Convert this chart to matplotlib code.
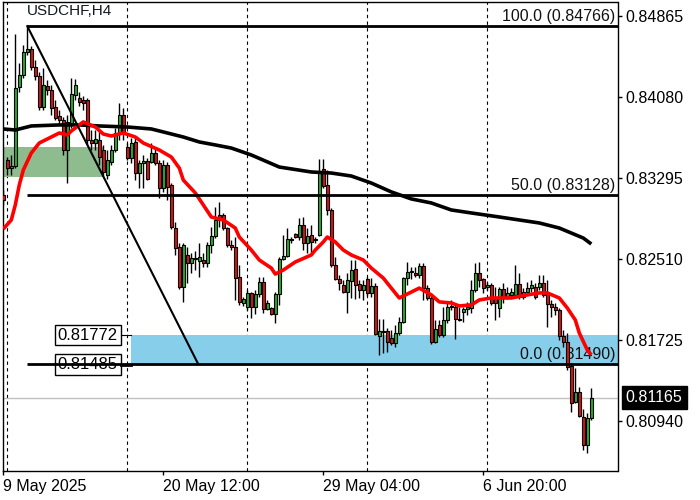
import matplotlib
matplotlib.use('Agg')
import matplotlib.pyplot as plt
import numpy as np
from matplotlib.patches import Rectangle

plt.rcParams['font.family'] = ['Liberation Sans', 'DejaVu Sans']

symbol_title = "USDCHF,H4"

opens = [
    0.83131, 0.83469, 0.83391, 0.83411, 0.84176, 0.84293, 0.84516, 0.84545, 0.84370, 0.84283,
    0.83983, 0.84186, 0.84148, 0.83983, 0.83896, 0.83857, 0.83566, 0.83818, 0.84100, 0.84070,
    0.84051, 0.84051, 0.83663, 0.83634, 0.83663, 0.83566, 0.83324, 0.83450, 0.83566, 0.83731,
    0.83906, 0.83595, 0.83488, 0.83644, 0.83343, 0.83440, 0.83459, 0.83450, 0.83537, 0.83440,
    0.83197, 0.83421, 0.83227, 0.82810, 0.82626, 0.82238, 0.82549, 0.82471, 0.82519, 0.82490,
    0.82500, 0.82471, 0.82646, 0.82733, 0.82937, 0.82937, 0.82810, 0.82646, 0.82626, 0.82335,
    0.82084, 0.82045, 0.82181, 0.82045, 0.82171, 0.82287, 0.82026, 0.82035, 0.81977, 0.82171,
    0.82510, 0.82539, 0.82694, 0.82752, 0.82723, 0.82840, 0.82665, 0.82743, 0.82694, 0.82743,
    0.83382, 0.83227, 0.82985, 0.82452, 0.82316, 0.82258, 0.82191, 0.82296, 0.82413, 0.82267,
    0.82210, 0.82316, 0.82181, 0.82248, 0.81764, 0.81812, 0.81812, 0.81744, 0.81696, 0.81793,
    0.81900, 0.82325, 0.82384, 0.82374, 0.82355, 0.82442, 0.82228, 0.82132, 0.81706, 0.81871,
    0.81774, 0.81919, 0.82045, 0.82045, 0.81929, 0.81997, 0.82026, 0.82035, 0.82210, 0.82374,
    0.82316, 0.82238, 0.82258, 0.82132, 0.82035, 0.82220, 0.82142, 0.82162, 0.82162, 0.82267,
    0.82142, 0.82191, 0.82228, 0.82238, 0.82238, 0.82277, 0.82181, 0.82074, 0.82045, 0.82016,
    0.81764, 0.81706, 0.81473, 0.81125, 0.81222, 0.80979, 0.80708, 0.80969,
]
highs = [
    0.83179, 0.83498, 0.83518, 0.84690, 0.84409, 0.84584, 0.84766, 0.84574, 0.84438, 0.84322,
    0.84360, 0.84244, 0.84196, 0.84051, 0.83954, 0.83886, 0.83906, 0.84263, 0.84254, 0.84129,
    0.84090, 0.84070, 0.83760, 0.83760, 0.83760, 0.83615, 0.83566, 0.83615, 0.83779, 0.84022,
    0.83973, 0.83634, 0.83682, 0.83682, 0.83469, 0.83518, 0.83488, 0.83634, 0.83585, 0.83469,
    0.83469, 0.83450, 0.83246, 0.82869, 0.82665, 0.82665, 0.82626, 0.82568, 0.82587, 0.82665,
    0.82568, 0.82675, 0.82820, 0.83014, 0.83063, 0.82956, 0.82820, 0.82694, 0.82723, 0.82452,
    0.82142, 0.82210, 0.82191, 0.82210, 0.82335, 0.82335, 0.82113, 0.82045, 0.82191, 0.82529,
    0.82743, 0.82810, 0.82723, 0.82762, 0.82907, 0.82917, 0.82810, 0.82840, 0.82723, 0.83479,
    0.83479, 0.83372, 0.83004, 0.82529, 0.82355, 0.82306, 0.82374, 0.82500, 0.82500, 0.82306,
    0.82306, 0.82335, 0.82325, 0.82277, 0.81929, 0.81929, 0.81841, 0.81822, 0.81871, 0.81948,
    0.82335, 0.82481, 0.82432, 0.82432, 0.82471, 0.82471, 0.82258, 0.82162, 0.81919, 0.81919,
    0.82045, 0.82084, 0.82113, 0.82084, 0.82045, 0.82045, 0.82094, 0.82306, 0.82471, 0.82481,
    0.82325, 0.82287, 0.82277, 0.82238, 0.82238, 0.82277, 0.82238, 0.82228, 0.82452, 0.82374,
    0.82228, 0.82287, 0.82306, 0.82277, 0.82355, 0.82355, 0.82306, 0.82113, 0.82084, 0.82035,
    0.81822, 0.81793, 0.81502, 0.81453, 0.81269, 0.81057, 0.81018, 0.81260,
]
lows = [
    0.83034, 0.83324, 0.83324, 0.83391, 0.84129, 0.84263, 0.84487, 0.84341, 0.84244, 0.83954,
    0.83954, 0.84100, 0.83906, 0.83857, 0.83809, 0.83518, 0.83246, 0.83779, 0.84051, 0.83993,
    0.83954, 0.83615, 0.83566, 0.83566, 0.83421, 0.83314, 0.83285, 0.83421, 0.83547, 0.83663,
    0.83663, 0.83469, 0.83440, 0.83275, 0.83197, 0.83197, 0.83275, 0.83440, 0.83421, 0.83101,
    0.83160, 0.83082, 0.82801, 0.82549, 0.82219, 0.82094, 0.82277, 0.82374, 0.82403, 0.82335,
    0.82432, 0.82432, 0.82568, 0.82713, 0.82820, 0.82791, 0.82626, 0.82597, 0.82113, 0.82065,
    0.82055, 0.82016, 0.81938, 0.81977, 0.82142, 0.81987, 0.82016, 0.81968, 0.81890, 0.82065,
    0.82500, 0.82529, 0.82665, 0.82713, 0.82694, 0.82597, 0.82568, 0.82568, 0.82665, 0.82733,
    0.83197, 0.82937, 0.82432, 0.82306, 0.82210, 0.82181, 0.81987, 0.82132, 0.82123, 0.82132,
    0.82113, 0.82152, 0.82142, 0.81774, 0.81580, 0.81599, 0.81609, 0.81677, 0.81657, 0.81774,
    0.81890, 0.82258, 0.82316, 0.82335, 0.82325, 0.82113, 0.82113, 0.81686, 0.81696, 0.81754,
    0.81754, 0.81890, 0.82016, 0.81735, 0.81909, 0.81900, 0.81968, 0.81987, 0.82191, 0.82238,
    0.82181, 0.82210, 0.82065, 0.81919, 0.81948, 0.82084, 0.82123, 0.82142, 0.82142, 0.82123,
    0.82123, 0.82181, 0.82191, 0.82123, 0.82210, 0.82142, 0.81851, 0.81948, 0.81968, 0.81725,
    0.81657, 0.81434, 0.81028, 0.81115, 0.80979, 0.80659, 0.80630, 0.80950,
]
closes = [
    0.83082, 0.83391, 0.83411, 0.84166, 0.84293, 0.84516, 0.84545, 0.84370, 0.84283, 0.83983,
    0.84196, 0.84148, 0.83973, 0.83876, 0.83857, 0.83566, 0.83838, 0.84109, 0.84196, 0.84032,
    0.84022, 0.83663, 0.83634, 0.83673, 0.83498, 0.83353, 0.83469, 0.83566, 0.83731, 0.83906,
    0.83731, 0.83488, 0.83634, 0.83343, 0.83440, 0.83459, 0.83285, 0.83537, 0.83440, 0.83197,
    0.83421, 0.83207, 0.82820, 0.82616, 0.82238, 0.82646, 0.82471, 0.82519, 0.82510, 0.82529,
    0.82471, 0.82646, 0.82733, 0.82888, 0.82888, 0.82810, 0.82646, 0.82626, 0.82325, 0.82094,
    0.82123, 0.82181, 0.82045, 0.82171, 0.82287, 0.82026, 0.82084, 0.81977, 0.82171, 0.82510,
    0.82539, 0.82704, 0.82704, 0.82723, 0.82840, 0.82665, 0.82733, 0.82675, 0.82700, 0.83343,
    0.83217, 0.82985, 0.82452, 0.82316, 0.82277, 0.82191, 0.82306, 0.82403, 0.82258, 0.82210,
    0.82258, 0.82181, 0.82248, 0.81783, 0.81812, 0.81803, 0.81706, 0.81696, 0.81793, 0.81900,
    0.82325, 0.82384, 0.82393, 0.82355, 0.82442, 0.82228, 0.82132, 0.81706, 0.81832, 0.81774,
    0.81919, 0.82045, 0.82055, 0.81929, 0.81919, 0.82026, 0.82045, 0.82210, 0.82374, 0.82306,
    0.82228, 0.82258, 0.82084, 0.82084, 0.82220, 0.82132, 0.82181, 0.82191, 0.82267, 0.82142,
    0.82191, 0.82228, 0.82258, 0.82142, 0.82277, 0.82162, 0.82074, 0.82045, 0.82016, 0.81764,
    0.81706, 0.81463, 0.81115, 0.81222, 0.80989, 0.80708, 0.80969, 0.81165,
]

# slow moving average (black), sampled at bar indices
slow_ma_bars = [0, 3, 7, 14, 19, 24, 31, 37, 40, 45, 49, 53, 57, 62, 69, 77, 82, 87, 92, 97,
                102, 107, 112, 117, 124, 134, 139, 145, 147]
slow_ma_vals = [0.83770, 0.83760, 0.83799, 0.83809, 0.83809, 0.83799, 0.83789, 0.83770, 0.83741,
                0.83692, 0.83644, 0.83615, 0.83585, 0.83518, 0.83401, 0.83353, 0.83343, 0.83314,
                0.83246, 0.83160, 0.83092, 0.83053, 0.82985, 0.82956, 0.82917, 0.82859, 0.82810,
                0.82713, 0.82655]
# fast moving average (red)
fast_ma_bars = [0, 2, 3, 4, 5, 7, 9, 12, 14, 16, 17, 20, 23, 25, 27, 30, 33, 35, 39, 42,
                44, 45, 48, 50, 52, 55, 58, 59, 62, 64, 67, 68, 70, 73, 77, 78, 80, 81, 83, 85,
                87, 90, 92, 95, 97, 99, 104, 107, 109, 112, 114, 117, 119, 122, 127, 131, 134, 136, 139, 141,
                143, 144, 146, 147]
fast_ma_vals = [0.82801, 0.82888, 0.83034, 0.83227, 0.83372, 0.83537, 0.83634, 0.83692, 0.83731, 0.83712,
                0.83750, 0.83838, 0.83789, 0.83721, 0.83702, 0.83731, 0.83692, 0.83634, 0.83566, 0.83498,
                0.83391, 0.83275, 0.83150, 0.83034, 0.82917, 0.82888, 0.82810, 0.82723, 0.82597, 0.82500,
                0.82422, 0.82364, 0.82403, 0.82481, 0.82549, 0.82597, 0.82675, 0.82723, 0.82675, 0.82597,
                0.82549, 0.82500, 0.82422, 0.82325, 0.82228, 0.82132, 0.82228, 0.82162, 0.82094, 0.82084,
                0.82055, 0.82065, 0.82113, 0.82132, 0.82132, 0.82162, 0.82181, 0.82181, 0.82132, 0.82035,
                0.81919, 0.81793, 0.81628, 0.81580]

fib_levels = [0.84766, 0.83128, 0.81490]
fib_labels = ["100.0 (0.84766)", "50.0 (0.83128)", "0.0 (0.81490)"]
fib_start_bar = 6
fib_end_bar = 48.75
supply_zone = (0.83304, 0.83595)
supply_zone_end_bar = 24.9
demand_zone = (0.81485, 0.81772)
demand_zone_start_bar = 32
demand_labels = ["0.81772", "0.81485"]
current_price = 0.81165
week_starts = [1, 31, 61, 91, 121]
yticks = [0.84865, 0.84080, 0.83295, 0.82510, 0.81725, 0.80940]
xtick_bars = [0, 40, 80, 120]
xtick_labels = ["9 May 2025", "20 May 12:00", "29 May 04:00", "6 Jun 20:00"]

o = np.array(opens); h = np.array(highs); l = np.array(lows); c = np.array(closes)
x = np.arange(len(c))

fig = plt.figure(figsize=(7, 5), dpi=100)
ax = fig.add_axes([2.7 / 700, 29 / 500, 614.8 / 700, 469 / 500])
ax.set_xlim(-0.15, 153.55)
ax.set_ylim(0.804556, 0.850002)

# separators
for b in week_starts:
    ax.axvline(b, color='black', lw=0.8, ls=(0, (3, 3)), zorder=1)

ax.axhline(current_price, color='#c0c0c0', lw=1, zorder=1)

ax.add_patch(Rectangle((-2, supply_zone[0]), supply_zone_end_bar + 2, supply_zone[1] - supply_zone[0],
                       facecolor='#8fbc8f', edgecolor='none', zorder=2))
ax.add_patch(Rectangle((demand_zone_start_bar - 0.1, demand_zone[0]), 200, demand_zone[1] - demand_zone[0],
                       facecolor='#87ceeb', edgecolor='none', zorder=2))

# fib labels (behind candles)
for lev, lab in zip(fib_levels, fib_labels):
    ax.annotate(lab, xy=(1, lev), xycoords=('axes fraction', 'data'), xytext=(-1.5, 1.5),
                textcoords='offset points', ha='right', va='bottom', fontsize=11.5,
                color='#111111', zorder=2.5)

# candles
ax.vlines(x, l, h, color='black', lw=1, zorder=3)
up = c >= o
bottom = np.minimum(o, c)
height = np.maximum(np.abs(c - o), 0.00003)
ax.bar(x[up], height[up], bottom=bottom[up], width=0.75, color='#22b022', edgecolor='black',
       linewidth=0.8, zorder=4)
ax.bar(x[~up], height[~up], bottom=bottom[~up], width=0.75, color='#e01010', edgecolor='black',
       linewidth=0.8, zorder=4)

# moving averages
ax.plot(slow_ma_bars, slow_ma_vals, color='black', lw=2.6, zorder=5, solid_capstyle='butt')
ax.plot(fast_ma_bars, fast_ma_vals, color='#ff0000', lw=2.6, zorder=5.5, solid_capstyle='butt')

# fibonacci
ax.hlines(fib_levels, fib_start_bar, 200, color='black', lw=2, zorder=7)
ax.plot([fib_start_bar, fib_end_bar], [fib_levels[0], fib_levels[-1]], color='black', lw=1.5, zorder=7)

# zone price labels
box = dict(boxstyle='square,pad=0.17', fc='white', ec='black', lw=1)
ax.text(28.6, demand_zone[1], demand_labels[0], ha='right', va='center', fontsize=12,
        bbox=box, zorder=6)
ax.text(28.6, demand_zone[0], demand_labels[1], ha='right', va='center', fontsize=12,
        bbox=box, zorder=6)
ax.plot([29.4, demand_zone_start_bar], [demand_zone[1]] * 2, color='black', lw=0.8, zorder=6)
ax.plot([29.4, demand_zone_start_bar], [demand_zone[0]] * 2, color='black', lw=2, zorder=7)

# title
ax.text(0.0395, 0.996, symbol_title, transform=ax.transAxes, ha='left', va='top', fontsize=11,
        color='#101820')

# axes styling
for s in ax.spines.values():
    s.set_color('black'); s.set_linewidth(1)
ax.yaxis.tick_right()
ax.set_yticks(yticks)
ax.set_yticklabels([f"{v:.5f}" for v in yticks])
ax.tick_params(axis='y', direction='out', length=3, width=1, pad=3, labelsize=11.5, right=True, left=False)
ax.set_xticks(xtick_bars)
ax.set_xticklabels(xtick_labels, ha='left')
ax.tick_params(axis='x', direction='out', length=3, width=1, pad=2.5, labelsize=11.5)

ax.annotate(f"{current_price:.5f}", xy=(1, current_price), xycoords=('axes fraction', 'data'),
            xytext=(6, 0), textcoords='offset points', ha='left', va='center', fontsize=11.5,
            color='white', annotation_clip=False,
            bbox=dict(boxstyle='square,pad=0.25', fc='black', ec='black'))

fig.savefig('out.png', dpi=100)
